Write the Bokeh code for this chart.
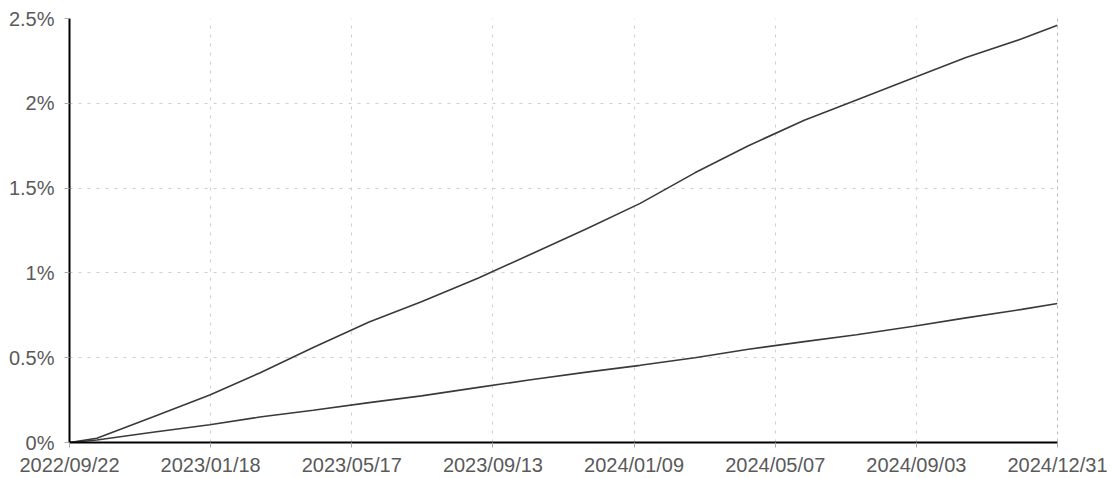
import numpy as np
import pandas as pd
from bokeh.plotting import figure
from bokeh.models import Range1d, FixedTicker, Span
from bokeh.embed import file_html
from bokeh.resources import INLINE

# ---- data ----
dates = ["2022-09-22", "2022-10-15", "2022-12-01", "2023-01-18", "2023-03-01",
         "2023-04-15", "2023-06-01", "2023-07-15", "2023-09-01", "2023-10-15",
         "2023-12-01", "2024-01-15", "2024-03-01", "2024-04-15", "2024-06-01",
         "2024-07-15", "2024-09-01", "2024-10-15", "2024-12-01", "2024-12-31"]
upper = [0.00, 0.025, 0.15, 0.28, 0.41, 0.56, 0.71, 0.83, 0.97, 1.11,
         1.26, 1.41, 1.59, 1.75, 1.90, 2.02, 2.15, 2.27, 2.38, 2.46]
lower = [0.00, 0.015, 0.06, 0.105, 0.15, 0.19, 0.235, 0.275, 0.325, 0.37,
         0.415, 0.455, 0.50, 0.55, 0.595, 0.635, 0.685, 0.735, 0.785, 0.82]

x_tick_labels = ["2022/09/22", "2023/01/18", "2023/05/17", "2023/09/13",
                 "2024/01/09", "2024/05/07", "2024/09/03", "2024/12/31"]
y_tick_values = [0, 0.5, 1, 1.5, 2, 2.5]
y_tick_labels = ["0%", "0.5%", "1%", "1.5%", "2%", "2.5%"]

# ---- figure ----
dt = pd.to_datetime(dates)
t0 = dt[0].value / 1e6
t1 = dt[-1].value / 1e6

p = figure(width=1115, height=478, output_backend="svg", toolbar_location=None,
           x_axis_type="datetime",
           x_range=Range1d(t0, t1), y_range=Range1d(0, 2.5),
           min_border_left=69, min_border_right=58, min_border_top=18,
           min_border_bottom=35)
p.outline_line_color = None
p.background_fill_color = "white"

line_color = "#3a3a3a"
p.line(dt, upper, line_color=line_color, line_width=1.6)
p.line(dt, lower, line_color=line_color, line_width=1.6)

# x axis
x_ticks = list(np.linspace(t0, t1, len(x_tick_labels)))
p.xaxis.ticker = FixedTicker(ticks=x_ticks)
p.xaxis.major_label_overrides = {t: l for t, l in zip(x_ticks, x_tick_labels)}
# y axis
p.yaxis.ticker = FixedTicker(ticks=y_tick_values)
p.yaxis.major_label_overrides = {v: l for v, l in zip(y_tick_values, y_tick_labels)}

for ax in (p.xaxis, p.yaxis):
    ax.axis_line_color = "black"
    ax.axis_line_width = 2
    ax.major_tick_line_color = "#aaaaaa"
    ax.major_tick_in = 0
    ax.major_tick_out = 5
    ax.minor_tick_line_color = None
    ax.major_label_text_font = "Liberation Sans"
    ax.major_label_text_font_size = "20px"
    ax.major_label_text_color = "#5a5a5a"
p.xaxis.major_label_standoff = 6
p.yaxis.major_label_standoff = 10

p.grid.grid_line_color = "#d0d0d0"
p.grid.grid_line_dash = "3 6"
p.grid.grid_line_width = 1

p.add_layout(Span(location=t1, dimension="height", line_color="#777777",
                  line_dash="3 4", line_width=1))

open("out.html", "w").write(file_html(p, INLINE))
